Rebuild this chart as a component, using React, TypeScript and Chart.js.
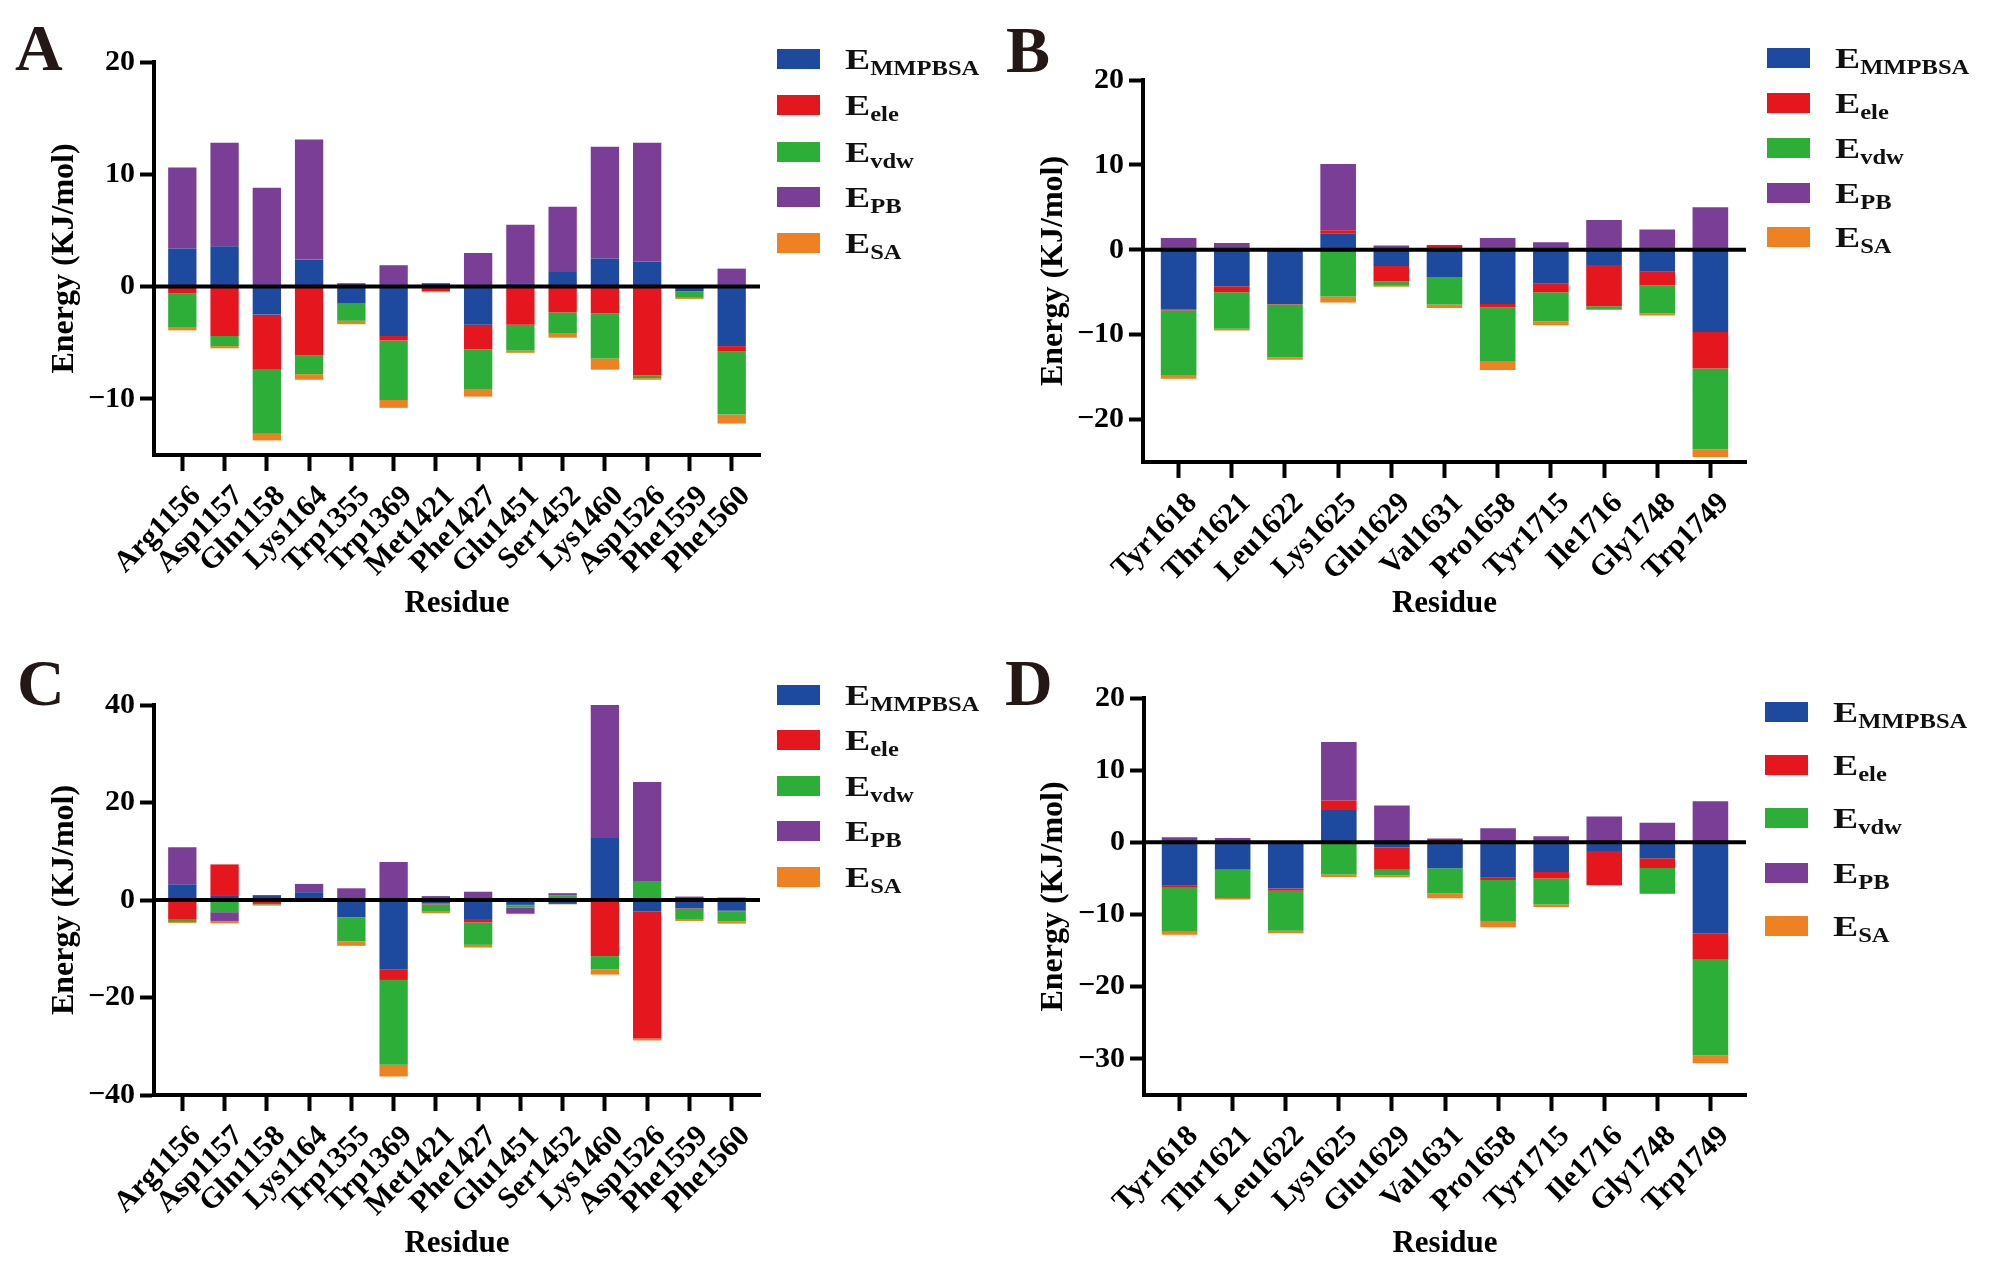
import React, { useEffect, useRef } from 'react';
import { Chart, registerables } from 'chart.js';

Chart.register(...registerables);

// ---------- data ----------
const residuesAC = ['Arg1156', 'Asp1157', 'Gln1158', 'Lys1164', 'Trp1355', 'Trp1369', 'Met1421', 'Phe1427', 'Glu1451', 'Ser1452', 'Lys1460', 'Asp1526', 'Phe1559', 'Phe1560'];
const residuesBD = ['Tyr1618', 'Thr1621', 'Leu1622', 'Lys1625', 'Glu1629', 'Val1631', 'Pro1658', 'Tyr1715', 'Ile1716', 'Gly1748', 'Trp1749'];

const seriesNames = ['EMMPBSA', 'Eele', 'Evdw', 'EPB', 'ESA'];
const legendSubs = ['MMPBSA', 'ele', 'vdw', 'PB', 'SA'];

// Panel A
const aMmpbsa = [3.4, 3.6, -2.5, 2.4, -1.5, -4.4, 0.3, -3.4, 0.3, 1.3, 2.5, 2.2, -0.4, -5.3];
const aEle = [-0.6, -4.4, -4.9, -6.1, -0.05, -0.4, -0.4, -2.2, -3.4, -2.3, -2.4, -7.9, -0.05, -0.5];
const aVdw = [-3.0, -0.9, -5.7, -1.7, -1.5, -5.3, -0.05, -3.6, -2.3, -1.9, -4.0, -0.25, -0.55, -5.6];
const aPb = [7.2, 9.2, 8.8, 10.7, 0.3, 1.9, 0, 3.0, 5.2, 5.8, 9.95, 10.6, 0, 1.6];
const aSa = [-0.3, -0.2, -0.6, -0.5, -0.3, -0.7, -0.05, -0.6, -0.2, -0.35, -1.0, -0.15, -0.1, -0.8];

// Panel B
const bMmpbsa = [-7.0, -4.3, -6.4, 1.9, -1.9, -3.2, -6.4, -4.0, -1.8, -2.6, -9.7];
const bEle = [-0.15, -0.7, -0.05, 0.4, -1.8, 0.55, -0.4, -1.0, -4.85, -1.6, -4.3];
const bVdw = [-7.6, -4.3, -6.2, -5.5, -0.55, -3.25, -6.4, -3.45, -0.4, -3.3, -9.5];
const bPb = [1.4, 0.8, 0, 7.8, 0.5, 0, 1.4, 0.9, 3.5, 2.4, 5.0];
const bSa = [-0.45, -0.2, -0.3, -0.7, -0.1, -0.4, -0.95, -0.45, -0.05, -0.25, -0.9];

// Panel C
const cMmpbsa = [3.2, 1.0, 1.0, 1.6, -3.5, -14.2, -0.7, -3.9, -1.0, -0.8, 12.7, -2.3, -1.7, -2.2];
const cEle = [-3.9, 6.3, -0.8, 0, -0.1, -2.2, -0.2, -0.7, -0.1, 0.3, -11.5, -26.1, -0.1, -0.1];
const cVdw = [-0.6, -2.5, -0.15, -0.1, -4.9, -17.4, -1.5, -4.6, -0.5, 0.6, -2.7, 3.9, -2.1, -2.05];
const cPb = [7.6, -1.8, 0, 1.7, 2.4, 7.8, 0.8, 1.7, -1.2, 0.5, 27.3, 20.3, 0.7, 0.5];
const cSa = [-0.2, -0.5, -0.2, 0, -0.9, -2.4, -0.3, -0.55, -0.1, -0.1, -1.1, -0.4, -0.4, -0.5];

// Panel D
const dMmpbsa = [-6.0, -3.7, -6.4, 4.5, -0.7, -3.6, -4.9, -4.1, -1.2, -2.2, -12.6];
const dEle = [-0.3, -0.1, -0.3, 1.3, -3.1, 0.45, -0.3, -0.9, -4.7, -1.35, -3.55];
const dVdw = [-6.1, -3.9, -5.55, -4.45, -0.8, -3.5, -5.7, -3.6, -0.05, -3.45, -13.35];
const dPb = [0.7, 0.6, 0, 8.1, 5.1, 0.1, 1.95, 0.85, 3.6, 2.7, 5.7];
const dSa = [-0.4, -0.2, -0.35, -0.35, -0.25, -0.65, -0.85, -0.35, 0, -0.15, -1.1];

// ---------- styles ----------
const seriesColors = ['#1D4A9E', '#E5161E', '#2DAE39', '#7A3E96', '#EE8222'];
const FONT = "'Liberation Serif', 'Times New Roman', serif";
const EXTRA = 0.17;

type PanelCfg = {
  letter: string;
  x: number; y: number; w: number; h: number;
  left: number; right: number; top: number; bottom: number;
  min: number; max: number; step: number;
  labels: string[];
  values: number[][];
  legendX: number; legendTextX: number; legendRows: number[];
  letterX: number; letterBase: number;
};

const panels: PanelCfg[] = [
  {
    letter: 'A', x: 0, y: 0, w: 989, h: 632, left: 154, right: 760, top: 62, bottom: 455,
    min: -15, max: 20, step: 10, labels: residuesAC, values: [aMmpbsa, aEle, aVdw, aPb, aSa],
    legendX: 777, legendTextX: 845, legendRows: [59, 105, 152, 197, 243], letterX: 15, letterBase: 70,
  },
  {
    letter: 'B', x: 989, y: 0, w: 1000, h: 632, left: 154, right: 757, top: 80, bottom: 462,
    min: -25, max: 20, step: 10, labels: residuesBD, values: [bMmpbsa, bEle, bVdw, bPb, bSa],
    legendX: 778, legendTextX: 846, legendRows: [58, 103, 148, 193, 237], letterX: 17, letterBase: 72,
  },
  {
    letter: 'C', x: 0, y: 640, w: 989, h: 632, left: 154, right: 760, top: 65, bottom: 455,
    min: -40, max: 40, step: 20, labels: residuesAC, values: [cMmpbsa, cEle, cVdw, cPb, cSa],
    legendX: 777, legendTextX: 845, legendRows: [55, 100, 146, 191, 237], letterX: 17, letterBase: 65,
  },
  {
    letter: 'D', x: 989, y: 640, w: 1000, h: 632, left: 155, right: 757, top: 58, bottom: 455,
    min: -35, max: 20, step: 10, labels: residuesBD, values: [dMmpbsa, dEle, dVdw, dPb, dSa],
    legendX: 776, legendTextX: 844, legendRows: [72, 125, 178, 233, 286], letterX: 16, letterBase: 65,
  },
];

const decorPlugin = {
  id: 'decor',
  afterDatasetsDraw(chart: any) {
    const { ctx, chartArea, scales } = chart;
    const y0 = scales.y.getPixelForValue(0);
    ctx.save();
    ctx.strokeStyle = '#000';
    ctx.lineWidth = 4;
    ctx.beginPath();
    ctx.moveTo(chartArea.left, y0);
    ctx.lineTo(chartArea.right, y0);
    ctx.stroke();
    ctx.restore();
  },
  afterDraw(chart: any, _args: any, opts: any) {
    const ctx = chart.ctx;
    const cfg: PanelCfg = opts.cfg;
    if (!cfg) return;
    ctx.save();
    // panel letter
    ctx.fillStyle = '#231815';
    ctx.font = `bold 66px ${FONT}`;
    ctx.textBaseline = 'alphabetic';
    ctx.textAlign = 'left';
    ctx.fillText(cfg.letter, cfg.letterX, cfg.letterBase);
    // legend
    cfg.legendRows.forEach((ry, i) => {
      ctx.fillStyle = seriesColors[i];
      ctx.fillRect(cfg.legendX, ry - 10, 43, 20);
      ctx.fillStyle = '#111';
      ctx.font = `bold 29px ${FONT}`;
      const eW = ctx.measureText('E').width * 1.3;
      ctx.save();
      ctx.translate(cfg.legendTextX, ry + 10);
      ctx.scale(1.3, 1);
      ctx.fillText('E', 0, 0);
      ctx.restore();
      ctx.font = `bold 21px ${FONT}`;
      ctx.save();
      ctx.translate(cfg.legendTextX + eW, ry + 16);
      ctx.scale(1.17, 1);
      ctx.fillText(legendSubs[i], 0, 0);
      ctx.restore();
    });
    ctx.restore();
  },
};

function Panel({ cfg }: { cfg: PanelCfg }) {
  const ref = useRef<HTMLCanvasElement>(null);
  useEffect(() => {
    const canvas = ref.current;
    if (!canvas) return;
    const chart = new Chart(canvas, {
      type: 'bar',
      data: {
        labels: cfg.labels,
        datasets: cfg.values.map((v, i) => ({
          label: seriesNames[i],
          data: v,
          backgroundColor: seriesColors[i],
          borderWidth: 0,
          barPercentage: 0.67,
          categoryPercentage: 1,
        })),
      },
      options: {
        responsive: false,
        animation: false,
        devicePixelRatio: 1,
        layout: { padding: { left: 0, top: cfg.top, right: cfg.w - cfg.right, bottom: 0 } },
        plugins: {
          legend: { display: false },
          tooltip: { enabled: false },
          decor: { cfg },
        } as any,
        scales: {
          x: {
            stacked: true,
            offset: true,
            afterBuildTicks: (s: any) => {
              const n = s.ticks.length;
              s._startValue = -0.5 - EXTRA;
              s._valueRange = n + 2 * EXTRA;
            },
            afterFit: (s: any) => {
              s.height = cfg.h - cfg.bottom;
            },
            grid: {
              display: true,
              drawOnChartArea: false,
              drawTicks: true,
              tickLength: 16,
              tickWidth: 4,
              tickColor: '#000',
              color: '#000',
              offset: false,
            },
            border: { display: true, color: '#000', width: 4 },
            ticks: {
              autoSkip: false,
              maxRotation: 45,
              minRotation: 45,
              padding: 8,
              labelOffset: 14,
              color: '#000',
              font: { family: FONT, weight: 'bold', size: 30 },
            },
            title: {
              display: true,
              text: 'Residue',
              color: '#000',
              font: { family: FONT, weight: 'bold', size: 31 },
              padding: { top: 0, bottom: 9 },
            },
          },
          y: {
            stacked: true,
            min: cfg.min,
            max: cfg.max,
            afterBuildTicks: (s: any) => {
              s.ticks = s.ticks.filter((t: any) => Math.abs(t.value % cfg.step) < 1e-9);
            },
            afterFit: (s: any) => {
              s.width = cfg.left;
            },
            grid: {
              display: true,
              drawOnChartArea: false,
              drawTicks: true,
              tickLength: 14,
              tickWidth: 4,
              tickColor: '#000',
              color: '#000',
            },
            border: { display: true, color: '#000', width: 4 },
            ticks: {
              stepSize: cfg.step,
              padding: 5,
              color: '#000',
              font: { family: FONT, weight: 'bold', size: 30 },
              callback: (v: any) => (Number(v) < 0 ? '\u2212' + Math.abs(Number(v)) : String(v)),
            },
            title: {
              display: true,
              text: 'Energy (KJ/mol)',
              color: '#000',
              font: { family: FONT, weight: 'bold', size: 32 },
              padding: { top: 46, bottom: 0 },
            },
          },
        },
      } as any,
      plugins: [decorPlugin],
    });
    return () => chart.destroy();
  }, [cfg]);
  return (
    <div style={{ position: 'absolute', left: cfg.x, top: cfg.y, width: cfg.w, height: cfg.h }}>
      <canvas ref={ref} width={cfg.w} height={cfg.h} style={{ width: cfg.w, height: cfg.h, display: 'block' }} />
    </div>
  );
}

export default function App() {
  return (
    <div style={{ position: 'absolute', left: 0, top: 0, width: 1989, height: 1272, background: '#fff', overflow: 'hidden' }}>
      {panels.map((p) => (
        <Panel key={p.letter} cfg={p} />
      ))}
    </div>
  );
}
